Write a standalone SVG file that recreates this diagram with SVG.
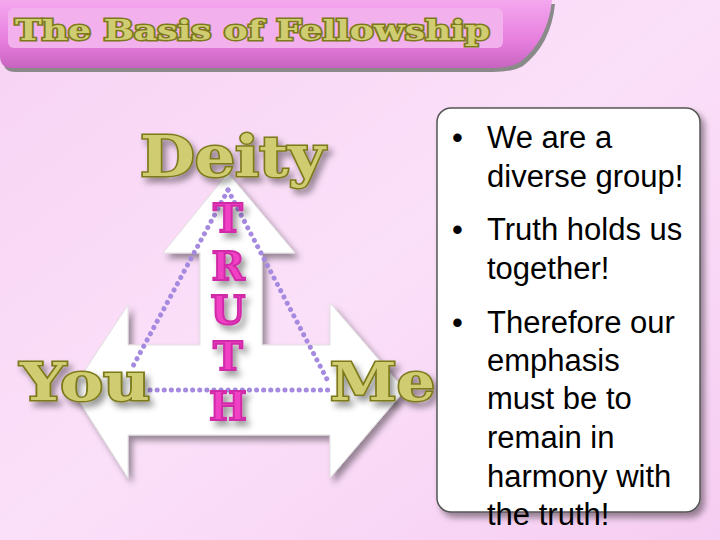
<svg xmlns="http://www.w3.org/2000/svg" width="720" height="540" viewBox="0 0 720 540">
<defs>
<linearGradient id="bg" x1="0" y1="0" x2="1" y2="1"><stop offset="0" stop-color="#f7d2f3"/><stop offset="0.5" stop-color="#fbe0f9"/><stop offset="1" stop-color="#f6cdf2"/></linearGradient>
<linearGradient id="bar" x1="0" y1="0" x2="0" y2="1"><stop offset="0" stop-color="#f4a8ee"/><stop offset="0.6" stop-color="#e77ede"/><stop offset="1" stop-color="#c864c0"/></linearGradient>
<filter id="sh" x="-20%" y="-20%" width="150%" height="150%"><feDropShadow dx="4" dy="5" stdDeviation="3" flood-color="#000" flood-opacity="0.4"/></filter>
<style>
.lbl{font-family:"DejaVu Serif",serif;font-weight:bold;fill:#cfcc72;stroke:#7d7a1c;stroke-width:3;paint-order:stroke;}
.tr{font-family:"DejaVu Serif",serif;font-weight:bold;font-size:40px;fill:#f040c4;text-anchor:middle;stroke:#d02aa8;stroke-width:2}
.bt{font-family:"Liberation Sans",Arial,sans-serif;font-size:31px;fill:#000}
</style>
</defs>
<rect width="720" height="540" fill="url(#bg)"/>
<g id="title">
<path d="M0 0 H552 Q548 40 520 62 Q510 68 490 68 H12 Q0 68 0 56 Z" fill="#8a8a8a" transform="translate(3,4)"/>
<path d="M0 0 H552 Q548 40 520 62 Q510 68 490 68 H12 Q0 68 0 56 Z" fill="url(#bar)"/>
<rect x="8" y="8" width="495" height="40" rx="6" fill="#f2b0ec"/>
<text x="15" y="40" class="lbl" font-size="28" textLength="475" lengthAdjust="spacingAndGlyphs" stroke="#444">The Basis of Fellowship</text>
</g>
<g id="arrows" filter="url(#sh)">
<path d="M228 173 L295 253 L262 253 L262 345 L330 345 L330 303 L405 390 L330 478 L330 435 L128 435 L128 478 L72 390 L128 305 L128 345 L200 345 L200 253 L163 253 Z" fill="#ffffff" stroke="#e0e0e0"/>
</g>
<g id="connectors" fill="none" stroke="#a58ae0" stroke-width="5" stroke-dasharray="0.1 7" stroke-linecap="round">
<path d="M228 190 L132 368"/>
<path d="M228 190 L330 385"/>
<path d="M150 390 L330 390"/>
</g>
<g id="deity"><text x="140" y="176" class="lbl" font-size="56" textLength="185" lengthAdjust="spacingAndGlyphs" filter="url(#sh)">Deity</text></g>
<g id="you"><text x="20" y="400" class="lbl" font-size="52" textLength="130" lengthAdjust="spacingAndGlyphs" filter="url(#sh)">You</text></g>
<g id="me"><text x="330" y="400" class="lbl" font-size="52" textLength="105" lengthAdjust="spacingAndGlyphs" filter="url(#sh)">Me</text></g>
<g id="truth" filter="url(#sh)">
<text x="228" y="232" class="tr">T</text>
<text x="228" y="280" class="tr">R</text>
<text x="228" y="324" class="tr">U</text>
<text x="228" y="370" class="tr">T</text>
<text x="228" y="420" class="tr">H</text>
</g>
<g id="textbox">
<rect x="437" y="108" width="263" height="404" rx="14" fill="#fff" stroke="#555" stroke-width="1.5" filter="url(#sh)"/>
<text class="bt"><tspan x="452" y="148">•</tspan><tspan x="487" y="148">We are a</tspan><tspan x="487" y="187">diverse group!</tspan>
<tspan x="452" y="240">•</tspan><tspan x="487" y="240">Truth holds us</tspan><tspan x="487" y="279">together!</tspan>
<tspan x="452" y="333">•</tspan><tspan x="487" y="333">Therefore our</tspan><tspan x="487" y="371">emphasis</tspan><tspan x="487" y="409">must be to</tspan><tspan x="487" y="448">remain in</tspan><tspan x="487" y="487">harmony with</tspan><tspan x="487" y="525">the truth!</tspan></text>
</g>
</svg>
